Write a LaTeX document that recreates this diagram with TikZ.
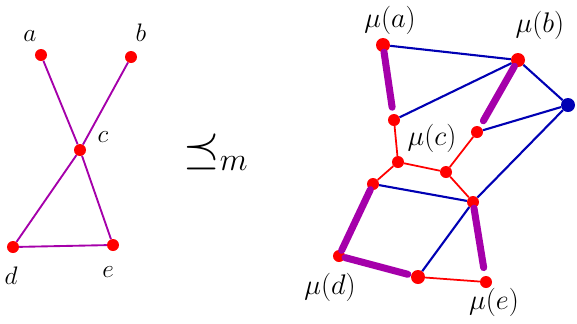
\documentclass[tikz,border=0pt]{standalone}
\usepackage{amsmath}
\usepackage{amssymb}
\usetikzlibrary{positioning}
\definecolor{penred}{RGB}{255,0,0}
\definecolor{penblue}{RGB}{0,0,180}
\definecolor{penpurple}{RGB}{165,0,170}

\begin{document}
\begin{tikzpicture}[
    x=0.03cm, y=-0.03cm,
    dot/.style={circle, fill=penred, inner sep=0pt, minimum size=0.36cm},
    bigdot/.style={dot, minimum size=0.42cm},
    bluedot/.style={bigdot, fill=penblue},
    lbl/.style={inner sep=1pt, font=\LARGE, scale=1.25},
    mlbl/.style={inner sep=1pt, font=\LARGE, scale=1.4},
    thinedge/.style={draw=penpurple, line width=1.6pt},
    blueedge/.style={draw=penblue, line width=1.8pt},
    rededge/.style={draw=penred, line width=1.5pt},
    fatedge/.style={draw=penpurple, line width=6pt, line cap=round}
  ]
    \useasboundingbox (0,0) rectangle (577,323);

    % left graph
    \node[dot] (a) at (41,55) {};
    \node[dot] (b) at (131,57) {};
    \node[dot] (c) at (80,150) {};
    \node[dot] (d) at (13,247) {};
    \node[dot] (e) at (113,245) {};
    \node[lbl] (la) at (30,36) {$a$};
    \node[lbl] (lb) at (141,33) {$b$};
    \node[lbl] (lc) at (103,137) {$c$};
    \node[lbl] (ld) at (11,276) {$d$};
    \node[lbl] (le) at (108,272) {$e$};

    \draw[thinedge] (a) -- (c);
    \draw[thinedge] (b) -- (c);
    \draw[thinedge] (c) -- (d);
    \draw[thinedge] (c) -- (e);
    \draw[thinedge] (d) -- (e);

    % minor relation
    \node[scale=1.6, font=\Huge] (rel) at (216,152) {$\preceq_{\scriptscriptstyle m}$};

    % right graph
    \node[bigdot] (ma) at (383,45) {};
    \node[bigdot] (mb) at (518,60) {};
    \node[bluedot] (mx) at (568,105) {};
    \node[dot] (mc1) at (394,120) {};
    \node[dot] (mc2) at (477,132) {};
    \node[dot] (mc3) at (398,162) {};
    \node[dot] (mc4) at (446,172) {};
    \node[dot] (mc5) at (373,184) {};
    \node[dot] (mc6) at (473,202) {};
    \node[dot] (md) at (339,256) {};
    \node[bigdot] (me1) at (418,277) {};
    \node[dot] (me2) at (486,282) {};
    \node[mlbl] (lma) at (390,20) {$\mu(a)$};
    \node[mlbl] (lmb) at (540,25) {$\mu(b)$};
    \node[mlbl] (lmc) at (432,138) {$\mu(c)$};
    \node[mlbl] (lmd) at (330,287) {$\mu(d)$};
    \node[mlbl] (lme) at (494,302) {$\mu(e)$};

    \draw[blueedge] (ma) -- (mb);
    \draw[blueedge] (mb) -- (mc1);
    \draw[blueedge] (mb) -- (mx);
    \draw[blueedge] (mx) -- (mc2);
    \draw[blueedge] (mx) -- (mc6);
    \draw[blueedge] (mc6) -- (me1);
    \draw[blueedge] (mc5) -- (mc6);

    \draw[rededge] (mc1) -- (mc3);
    \draw[rededge] (mc3) -- (mc4);
    \draw[rededge] (mc4) -- (mc2);
    \draw[rededge] (mc4) -- (mc6);
    \draw[rededge] (mc3) -- (mc5);
    \draw[rededge] (me1) -- (me2);

    \draw[fatedge, shorten >=0.2cm] (ma) -- (mc1);
    \draw[fatedge, shorten >=0.2cm] (mb) -- (mc2);
    \draw[fatedge] (mc5) -- (md);
    \draw[fatedge, shorten >=0.1cm] (md) -- (me1);
    \draw[fatedge, shorten >=0.25cm] (mc6) -- (me2);
\end{tikzpicture}
\end{document}
